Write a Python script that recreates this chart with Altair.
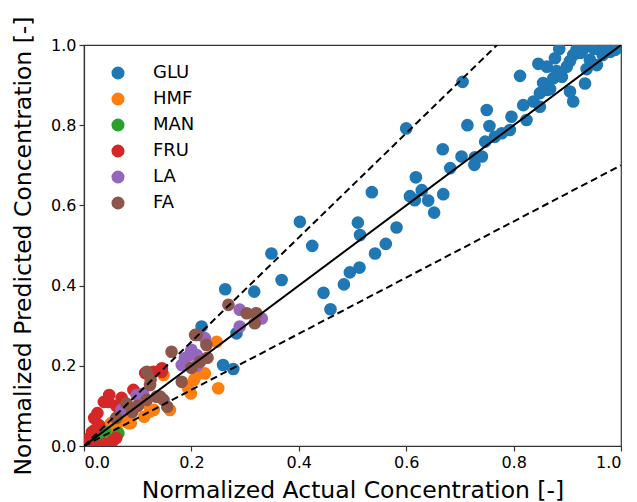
import altair as alt
import pandas as pd

# ---- data ----
series_names = ["GLU", "HMF", "MAN", "FRU", "LA", "FA"]
series_colors = ["#1f77b4", "#ff7f0e", "#2ca02c", "#d62728", "#9467bd", "#8c564b"]

glu_x = [0.219, 0.284, 0.259, 0.278, 0.263, 0.317, 0.349, 0.368, 0.402, 0.425, 0.446, 0.459,
         0.484, 0.495, 0.513, 0.510, 0.514, 0.536, 0.542, 0.562, 0.582, 0.600, 0.607, 0.616,
         0.618, 0.629, 0.641, 0.652, 0.669, 0.682, 0.668, 0.703, 0.705, 0.714, 0.727, 0.728,
         0.741, 0.747, 0.750, 0.755, 0.765, 0.778, 0.793, 0.796, 0.812, 0.818, 0.824, 0.837,
         0.846, 0.849, 0.849, 0.862, 0.868, 0.862, 0.874, 0.877, 0.890, 0.899, 0.905, 0.911,
         0.911, 0.917, 0.924, 0.933, 0.936, 0.942, 0.955, 0.966, 0.980, 0.989, 0.995, 0.880,
         0.855, 0.905, 0.930, 0.950, 0.970, 0.885]
glu_y = [0.298, 0.281, 0.202, 0.192, 0.391, 0.385, 0.480, 0.414, 0.559, 0.499, 0.382, 0.341,
         0.403, 0.433, 0.445, 0.557, 0.526, 0.633, 0.480, 0.504, 0.545, 0.792, 0.623, 0.613,
         0.670, 0.638, 0.612, 0.582, 0.628, 0.693, 0.740, 0.722, 0.908, 0.800, 0.701, 0.720,
         0.722, 0.759, 0.838, 0.798, 0.771, 0.780, 0.788, 0.821, 0.923, 0.850, 0.813, 0.859,
         0.953, 0.880, 0.846, 0.888, 0.890, 0.946, 0.917, 0.967, 0.921, 0.946, 0.884, 0.859,
         0.975, 0.988, 0.980, 0.904, 0.940, 0.963, 0.950, 0.975, 0.983, 0.988, 0.995, 0.935,
         0.905, 0.960, 0.990, 0.990, 0.990, 0.990]

hmf_x = [0.005, 0.010, 0.015, 0.020, 0.025, 0.030, 0.035, 0.040, 0.045, 0.050, 0.055, 0.060,
         0.065, 0.070, 0.075, 0.080, 0.085, 0.090, 0.100, 0.110, 0.115, 0.000, 0.019, 0.037,
         0.050, 0.062, 0.087, 0.112, 0.130, 0.083, 0.123, 0.092, 0.148, 0.160, 0.210, 0.225,
         0.250, 0.197, 0.194, 0.205, 0.199, 0.247]
hmf_y = [0.003, 0.012, 0.010, 0.022, 0.020, 0.032, 0.030, 0.045, 0.040, 0.055, 0.050, 0.065,
         0.060, 0.075, 0.070, 0.085, 0.080, 0.095, 0.100, 0.108, 0.110, 0.010, 0.023, 0.019,
         0.057, 0.036, 0.057, 0.073, 0.090, 0.057, 0.086, 0.094, 0.177, 0.090, 0.177, 0.181,
         0.144, 0.135, 0.144, 0.165, 0.131, 0.260]

man_x = [0.010, 0.020, 0.030, 0.040, 0.064]
man_y = [0.010, 0.020, 0.025, 0.035, 0.032]

fru_x = [0.005, 0.010, 0.015, 0.019, 0.025, 0.028, 0.037, 0.047, 0.045, 0.050, 0.055, 0.060,
         0.040, 0.030, 0.092, 0.129, 0.145, 0.145, 0.060, 0.070, 0.020, 0.010, 0.114]
fru_y = [0.010, 0.020, 0.035, 0.070, 0.082, 0.052, 0.110, 0.127, 0.110, 0.003, 0.015, 0.020,
         0.005, 0.000, 0.140, 0.185, 0.194, 0.185, 0.100, 0.120, 0.040, 0.005, 0.182]

la_x = [0.098, 0.182, 0.188, 0.197, 0.210, 0.225, 0.290, 0.290, 0.331, 0.320, 0.070, 0.110,
        0.200, 0.210]
la_y = [0.127, 0.202, 0.219, 0.227, 0.227, 0.269, 0.340, 0.298, 0.318, 0.330, 0.090, 0.130,
        0.240, 0.200]

fa_x = [0.269, 0.303, 0.318, 0.321, 0.210, 0.228, 0.207, 0.163, 0.216, 0.182, 0.117, 0.123,
        0.135, 0.148, 0.142, 0.079, 0.117, 0.100, 0.090, 0.200, 0.230, 0.060, 0.124, 0.155]
fa_y = [0.352, 0.331, 0.306, 0.331, 0.277, 0.252, 0.277, 0.235, 0.210, 0.160, 0.185, 0.152,
        0.123, 0.115, 0.123, 0.106, 0.115, 0.100, 0.085, 0.195, 0.220, 0.070, 0.165, 0.098]

# reference lines: y = slope * x
ref_slopes = [1.0, 1.3, 0.7]
ref_dashed = [False, True, True]

tick_values = [0.0, 0.2, 0.4, 0.6, 0.8, 1.0]

# ---- build tables ----
xs = [glu_x, hmf_x, man_x, fru_x, la_x, fa_x]
ys = [glu_y, hmf_y, man_y, fru_y, la_y, fa_y]
rows = []
for name, sx, sy in zip(series_names, xs, ys):
    for a, b in zip(sx, sy):
        rows.append({"actual": a, "predicted": b, "species": name})
pts = pd.DataFrame(rows)

line_rows = []
for i, (s, d) in enumerate(zip(ref_slopes, ref_dashed)):
    x_end = min(1.0, 1.0 / s)
    line_rows.append({"lid": i, "x": 0.0, "y": 0.0, "dashed": d})
    line_rows.append({"lid": i, "x": x_end, "y": s * x_end, "dashed": d})
lines = pd.DataFrame(line_rows)

xscale = alt.Scale(domain=[0, 1], nice=False, zero=False)
yscale = alt.Scale(domain=[0, 1], nice=False, zero=False)

xaxis = alt.Axis(title="Normalized Actual Concentration [-]", values=tick_values, format=".1f",
                 grid=False, tickSize=5, labelPadding=3, titlePadding=8)
yaxis = alt.Axis(title="Normalized Predicted Concentration [-]", values=tick_values, format=".1f",
                 grid=False, tickSize=5, labelPadding=3, titlePadding=15)

points = alt.Chart(pts).mark_circle(size=160, opacity=1, clip=True).encode(
    x=alt.X("actual:Q", scale=xscale, axis=xaxis),
    y=alt.Y("predicted:Q", scale=yscale, axis=yaxis),
    color=alt.Color("species:N",
                    scale=alt.Scale(domain=series_names, range=series_colors),
                    sort=series_names,
                    legend=alt.Legend(title=None, orient="none", legendX=25, legendY=19,
                                      symbolType="circle", symbolSize=170, symbolStrokeWidth=0,
                                      symbolOpacity=1, labelFontSize=18, labelOffset=26,
                                      rowPadding=8, labelFont="DejaVu Sans",
                                      labelColor="#000000")),
    order=alt.Order("idx:Q"),
).transform_window(idx="row_number()")

solid = alt.Chart(lines[~lines["dashed"]]).mark_line(color="black", strokeWidth=2, clip=True).encode(
    x=alt.X("x:Q", scale=xscale),
    y=alt.Y("y:Q", scale=yscale),
    detail="lid:N",
)
dashed = alt.Chart(lines[lines["dashed"]]).mark_line(color="black", strokeWidth=2,
                                                     strokeDash=[7, 4], clip=True).encode(
    x=alt.X("x:Q", scale=xscale),
    y=alt.Y("y:Q", scale=yscale),
    detail="lid:N",
)

chart = alt.layer(points, solid, dashed).properties(
    width=537, height=401,
    background="white",
    autosize=alt.AutoSizeParams(type="none"),
    padding={"left": 84, "top": 45, "right": 16, "bottom": 56},
).configure_view(
    stroke="#333333", strokeWidth=1.2
).configure_axis(
    labelFont="DejaVu Sans", titleFont="DejaVu Sans", labelFontSize=16, titleFontSize=23.5,
    titleFontWeight="normal", labelColor="#000000", titleColor="#000000",
    domainColor="#333333", tickColor="#333333", domainWidth=1.2, tickWidth=1.2,
)

chart.save("out.html", embed_options={"renderer": "svg", "actions": False})
